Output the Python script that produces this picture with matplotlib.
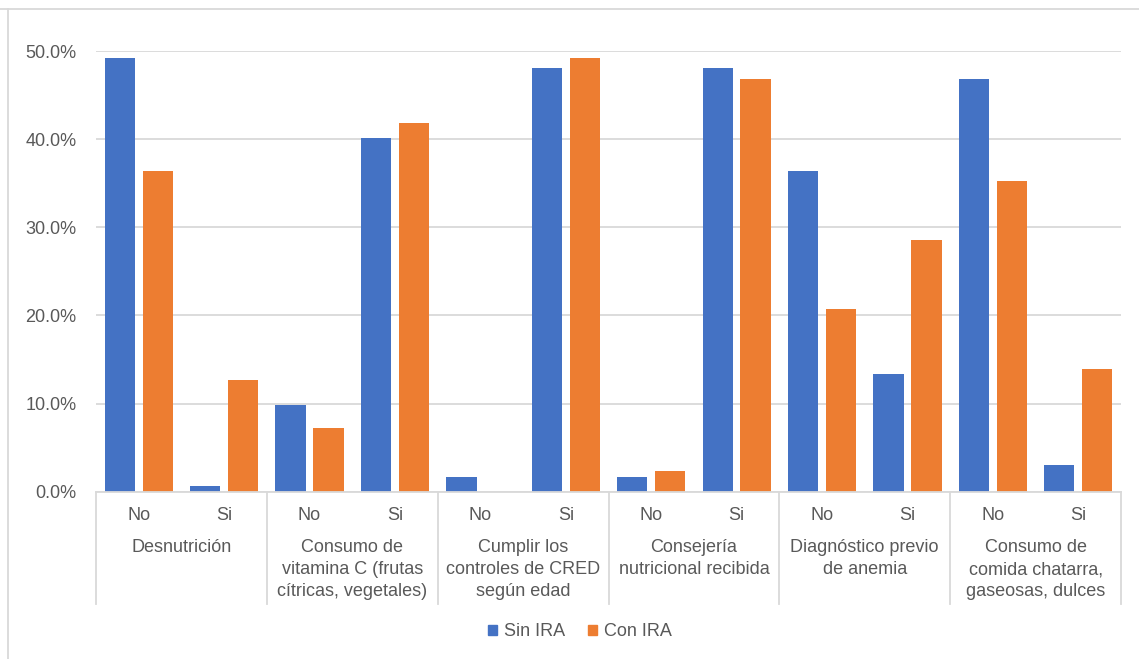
import numpy as np
import matplotlib
matplotlib.use('Agg')
import matplotlib.pyplot as plt
from matplotlib.lines import Line2D
from matplotlib.patches import Patch

plt.rcParams['font.family'] = ['Liberation Sans', 'DejaVu Sans']

# data (percent)
groups = ['Desnutrición',
          'Consumo de\nvitamina C (frutas\ncítricas, vegetales)',
          'Cumplir los\ncontroles de CRED\nsegún edad',
          'Consejería\nnutricional recibida',
          'Diagnóstico previo\nde anemia',
          'Consumo de\ncomida chatarra,\ngaseosas, dulces']
answers = ['No', 'Si']
sin_ira = [49.3, 0.6, 9.8, 40.2, 1.7, 48.1, 1.7, 48.1, 36.4, 13.3, 46.9, 3.0]
con_ira = [36.4, 12.7, 7.2, 41.9, 0.0, 49.3, 2.3, 46.9, 20.7, 28.6, 35.3, 13.9]
series_names = ['Sin IRA', 'Con IRA']

blue = '#4472C4'
orange = '#ED7D31'
grid_c = '#D9D9D9'
text_c = '#595959'
fs = 13

W, H = 1139, 659
fig = plt.figure(figsize=(W / 100, H / 100), dpi=100)

# axes placed in pixels
left, right, top, bottom = 96, 1121, 51.5, 491.5
ax = fig.add_axes([left / W, 1 - bottom / H, (right - left) / W, (bottom - top) / H])
ax_h = bottom - top

x = np.arange(len(sin_ira))
bw = 0.355
off = 0.222
ax.bar(x - off, sin_ira, bw, color=blue, zorder=3, label=series_names[0])
ax.bar(x + off, con_ira, bw, color=orange, zorder=3, label=series_names[1])

ax.set_xlim(-0.5, len(x) - 0.5)
ax.set_ylim(0, 50)
ax.set_yticks(np.arange(0, 51, 10))
ax.set_yticklabels([f'{v:.1f}%' for v in np.arange(0, 51, 10)])
ax.yaxis.grid(True, color=grid_c, linewidth=1.3, zorder=0)
ax.tick_params(axis='y', length=0, pad=14, labelsize=fs, labelcolor=text_c)
ax.set_xticks([])
for s in ['top', 'right', 'left']:
    ax.spines[s].set_visible(False)
ax.spines['bottom'].set_color(grid_c)
ax.spines['bottom'].set_linewidth(1.3)
ax.spines['bottom'].set_zorder(4)

# multi-level category axis
tr = ax.get_xaxis_transform()
px = 1.0 / ax_h
for i in range(len(x)):
    ax.text(x[i], -23.5 * px, answers[i % 2], transform=tr, ha='center', va='center',
            fontsize=fs, color=text_c)
for g, name in enumerate(groups):
    cx = 2 * g + 0.5
    for k, line in enumerate(name.split('\n')):
        ax.text(cx, -(56.5 + 21.7 * k) * px, line, transform=tr, ha='center', va='center',
                fontsize=fs, color=text_c)
for b in np.arange(-0.5, len(x), 2):
    ax.add_line(Line2D([b, b], [0, -112 * px], transform=tr, color=grid_c,
                       linewidth=1.3, clip_on=False))

# outer frame (top and left only, as in the source)
fig.add_artist(Line2D([0, 1], [1 - 9 / H, 1 - 9 / H], transform=fig.transFigure,
                      color=grid_c, linewidth=1.3))
fig.add_artist(Line2D([7.5 / W, 7.5 / W], [0, 1 - 9 / H], transform=fig.transFigure,
                      color=grid_c, linewidth=1.3))

handles = [Patch(color=blue, label=series_names[0]), Patch(color=orange, label=series_names[1])]
fig.legend(handles=handles, loc='center', bbox_to_anchor=(580 / W, 1 - 632 / H), ncol=2,
           frameon=False, fontsize=fs, labelcolor=text_c, handlelength=0.5,
           handleheight=0.5, handletextpad=0.35, columnspacing=1.3)

plt.savefig('out.png', dpi=100)
